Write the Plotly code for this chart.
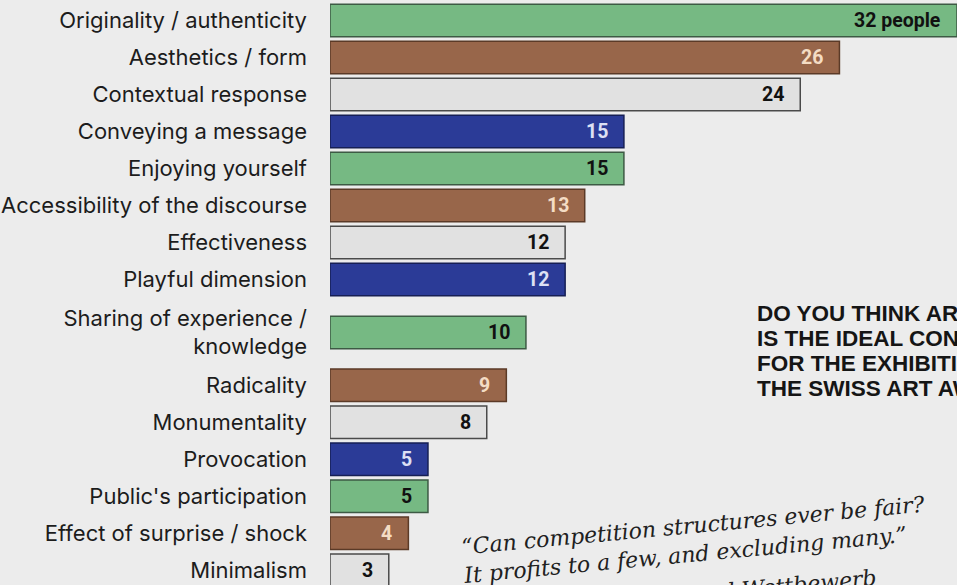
import plotly.graph_objects as go

# Survey answers: which qualities matter most in a work of art
categories = [
    "Originality / authenticity",
    "Aesthetics / form",
    "Contextual response",
    "Conveying a message",
    "Enjoying yourself",
    "Accessibility of the discourse",
    "Effectiveness",
    "Playful dimension",
    "Sharing of experience /<br>knowledge",
    "Radicality",
    "Monumentality",
    "Provocation",
    "Public's participation",
    "Effect of surprise / shock",
    "Minimalism",
]
counts = [32, 26, 24, 15, 15, 13, 12, 12, 10, 9, 8, 5, 5, 4, 3]
unit_label = " people"

question_lines = [
    "DO YOU THINK ART BASEL",
    "IS THE IDEAL CONTEXT",
    "FOR THE EXHIBITION OF",
    "THE SWISS ART AWARDS?",
]
quote_lines = [
    "\u201cCan competition structures ever be fair?",
    "It profits to a few, and excluding many.\u201d",
]
quote_source = "Kunst und Wettbewerb"

# Styling: colours cycle green / brown / grey / blue
W, H = 957, 585
BG = "#ececec"
fills = ["#76b983", "#98664a", "#e1e1e1", "#2b3b97"]
edges = ["#3d5a44", "#5b3a27", "#4a4a4a", "#161f55"]
text_cols = ["#111111", "#f4dcc4", "#111111", "#dde0f4"]

n = len(categories)
bar_fill = [fills[i % 4] for i in range(n)]
bar_edge = [edges[i % 4] for i in range(n)]
lab_col = [text_cols[i % 4] for i in range(n)]

# Row positions: a two-line label takes a taller row
ROW_PX = 37.0
TOP_PX = 20.5
row_h = [1 + 0.86 * (c.count("<br>")) for c in categories]
ypos = []
acc = 0.0
for i, h in enumerate(row_h):
    if i > 0:
        acc += (row_h[i - 1] + h) / 2
    ypos.append(acc)

fig = go.Figure(
    go.Bar(
        x=counts,
        y=ypos,
        orientation="h",
        width=0.88,
        marker=dict(color=bar_fill, line=dict(color=bar_edge, width=1.5)),
        hoverinfo="skip",
    )
)

value_texts = [f"{v}{unit_label}" if i == 0 else str(v) for i, v in enumerate(counts)]
for i, (v, y, t) in enumerate(zip(counts, ypos, value_texts)):
    fig.add_annotation(
        x=v, y=y, xref="x", yref="y", text=f"<b>{t}</b>",
        showarrow=False, xanchor="right", yanchor="middle", xshift=-14,
        font=dict(family="Roboto", size=19.5, color=lab_col[i]),
    )

# Question block on the right
for k, line in enumerate(question_lines):
    ypx = 313 + k * 25.2
    fig.add_annotation(
        x=756, y=1 - ypx / H, xref="paper", yref="paper",
        text=f"<b>{line}</b>", showarrow=False,
        xanchor="left", yanchor="middle", borderpad=0,
        font=dict(family="Liberation Sans", size=22.5, color="#151515"),
    )

# Rotated quote
quote_font = dict(family="DejaVu Serif", size=22, color="#202020", style="italic")
fig.add_annotation(
    x=694, y=1 - 540 / H, xref="paper", yref="paper",
    text="<br>".join(quote_lines), showarrow=False, align="left",
    xanchor="center", yanchor="middle", textangle=-5.3,
    font=quote_font,
)
fig.add_annotation(
    x=748, y=1 - 589 / H, xref="paper", yref="paper",
    text=quote_source, showarrow=False,
    xanchor="center", yanchor="middle", textangle=-5.3,
    font=quote_font,
)

PLOT_L = 330
fig.update_layout(
    width=W, height=H,
    margin=dict(l=PLOT_L, r=0, t=0, b=0),
    paper_bgcolor=BG, plot_bgcolor=BG,
    showlegend=False,
    xaxis=dict(range=[0, 32], visible=False, fixedrange=True),
    yaxis=dict(
        range=[(H - TOP_PX) / ROW_PX, -TOP_PX / ROW_PX],
        tickmode="array", tickvals=ypos, ticktext=categories,
        showgrid=False, zeroline=False, showline=False, ticks="",
        ticklabelstandoff=22,
        tickfont=dict(family="Inter", size=22, color="#1c1c1c"),
        fixedrange=True,
    ),
)
# paper x for annotations is relative to the plot area; convert from pixels
for a in fig.layout.annotations:
    if a.xref == "paper":
        a.x = (a.x - PLOT_L) / (W - PLOT_L)

fig.write_html("out.html")
